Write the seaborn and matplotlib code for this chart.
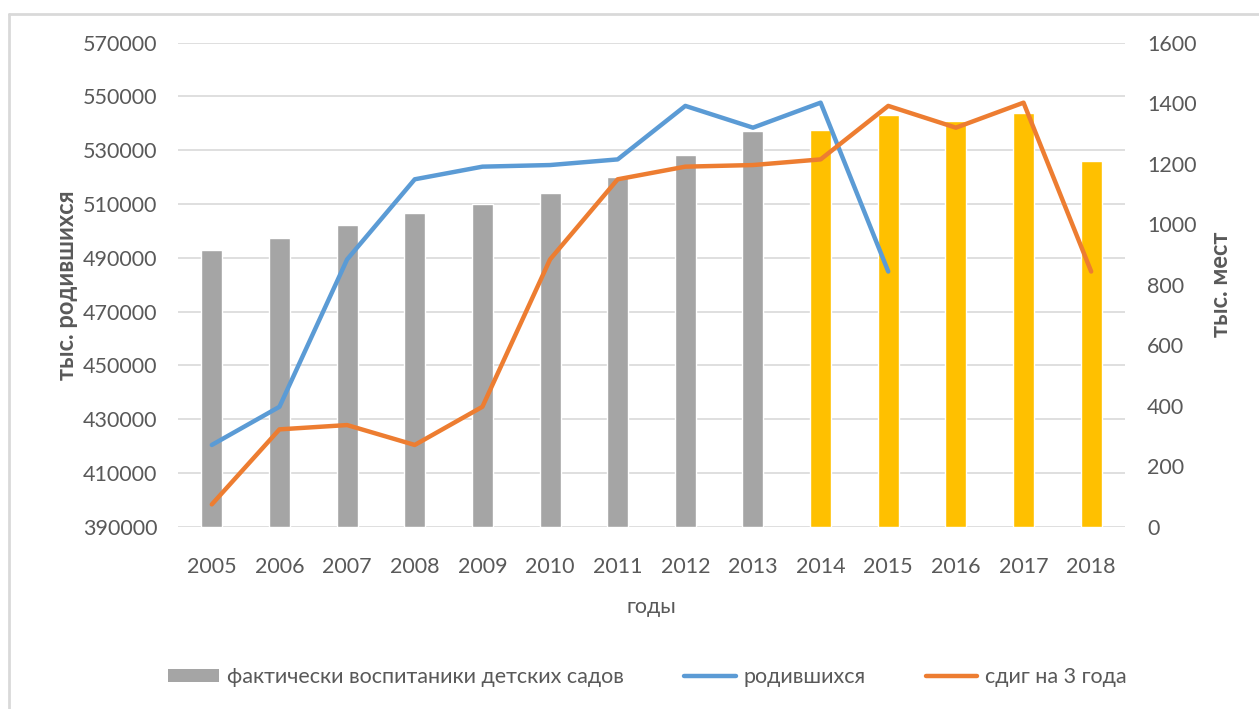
import numpy as np
import pandas as pd
import matplotlib
matplotlib.use("Agg")
import matplotlib.pyplot as plt
from matplotlib.patches import Patch
from matplotlib.lines import Line2D
import seaborn as sns

# data
years = ["2005", "2006", "2007", "2008", "2009", "2010", "2011",
         "2012", "2013", "2014", "2015", "2016", "2017", "2018"]
# kindergarten pupils, thousands (right axis)
pupils = [916, 956, 999, 1036, 1067, 1103, 1155,
          1230, 1309, 1313, 1362, 1342, 1368, 1208]
# births (left axis)
born = [420400, 434600, 489400, 519200, 523900, 524500, 526600,
        546500, 538400, 547700, 484900, np.nan, np.nan, np.nan]
# births shifted by 3 years (left axis)
shifted = [398300, 426200, 427800, 420400, 434600, 489400, 519200,
           523900, 524500, 526600, 546500, 538400, 547700, 484900]
actual_years = years[:9]

left_ticks = list(range(390000, 570001, 20000))
right_ticks = list(range(0, 1601, 200))

GRAY = "#A5A5A5"
GOLD = "#FFC000"
BLUE = "#5B9BD5"
ORANGE = "#ED7D31"
TEXT = "#595959"
GRID = "#D9D9D9"

sns.set_theme(style="white")
plt.rcParams["font.family"] = ["Lato", "DejaVu Sans"]
fs = 15.5

df = pd.DataFrame({"year": years, "pupils": pupils, "born": born, "shifted": shifted})
df["pos"] = np.arange(len(years))
bar_palette = {y: (GRAY if y in actual_years else GOLD) for y in years}

fig = plt.figure(figsize=(12.59, 7.09), dpi=100)
ax = fig.add_axes([178 / 1259, 1 - 526.7 / 709, (1125 - 178) / 1259, (526.7 - 42.7) / 709])
ax2 = ax.twinx()   # bars, right scale
ax3 = ax.twinx()   # lines, left scale, drawn on top

sns.barplot(data=df, x="year", y="pupils", hue="year", palette=bar_palette,
            legend=False, width=0.31, saturation=1, ax=ax2)
sns.lineplot(data=df, x="pos", y="born", color=BLUE, linewidth=3.2, ax=ax3)
sns.lineplot(data=df, x="pos", y="shifted", color=ORANGE, linewidth=3.2, ax=ax3)

# left axis: grid + labels
ax.set_ylim(390000, 570000)
ax.set_yticks(left_ticks)
ax.set_yticklabels([str(v) for v in left_ticks])
ax.grid(axis="y", color=GRID, linewidth=1.2)
ax.set_xlim(-0.5, len(years) - 0.5)
ax.set_xticks(range(len(years)))
ax.set_xticklabels(years)
ax.tick_params(axis="both", length=0, labelsize=fs, labelcolor=TEXT)
ax.tick_params(axis="y", pad=15)
ax.tick_params(axis="x", pad=22)
ax.set_ylabel("тыс. родившихся", fontsize=17, fontweight="bold", color=TEXT, labelpad=3)
ax.set_xlabel("годы", fontsize=fs, color=TEXT, labelpad=14)

ax2.set_ylim(0, 1600)
ax2.set_yticks(right_ticks)
ax2.set_yticklabels([str(v) for v in right_ticks])
ax2.tick_params(axis="y", length=0, labelsize=fs, labelcolor=TEXT, pad=16)
ax2.set_ylabel("тыс. мест", fontsize=17, fontweight="bold", color=TEXT, labelpad=9)
ax2.set_xlabel("")

ax3.set_ylim(390000, 570000)
ax3.set_xlim(-0.5, len(years) - 0.5)
ax3.set_yticks([])
ax3.set_ylabel("")
ax3.set_xlabel("")

for a in (ax, ax2, ax3):
    for s in a.spines.values():
        s.set_visible(False)

handles = [Patch(facecolor=GRAY, edgecolor="none"),
           Line2D([], [], color=BLUE, linewidth=3.2),
           Line2D([], [], color=ORANGE, linewidth=3.2)]
labels = ["фактически воспитаники детских садов", "родившихся", "сдиг на 3 года"]
leg = fig.legend(handles, labels, loc="center", bbox_to_anchor=(647 / 1259, 1 - 677 / 709),
                 ncol=3, frameon=False, fontsize=fs, handlelength=2.4, handleheight=0.55,
                 handletextpad=0.35, columnspacing=2.8)
for t in leg.get_texts():
    t.set_color(TEXT)

# chart-area border (left and top edges visible)
fig.add_artist(Line2D([9 / 1259, 9 / 1259], [0, 1 - 14 / 709], color=GRID, linewidth=2,
                      transform=fig.transFigure))
fig.add_artist(Line2D([9 / 1259, 1], [1 - 14 / 709, 1 - 14 / 709], color=GRID, linewidth=2,
                      transform=fig.transFigure))

fig.savefig("out.png", dpi=100, facecolor="white")
